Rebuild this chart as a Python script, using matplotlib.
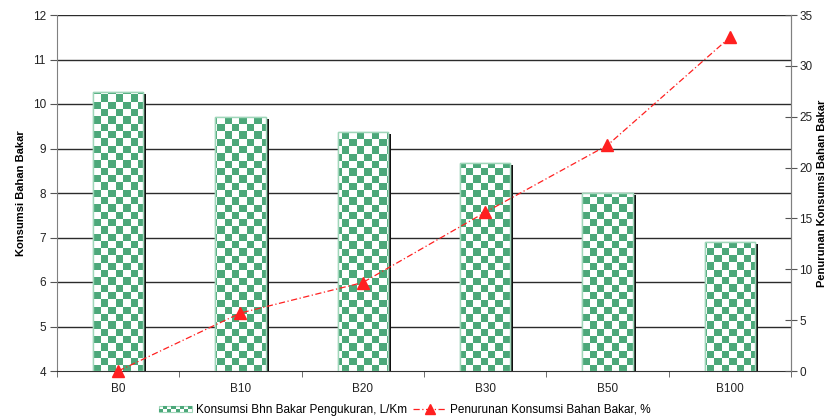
import numpy as np
import matplotlib
matplotlib.use("Agg")
import matplotlib.pyplot as plt
from matplotlib.patches import Rectangle
from matplotlib.lines import Line2D
from matplotlib.legend_handler import HandlerBase
from matplotlib.colors import ListedColormap

plt.rcParams['font.family'] = ['Liberation Sans', 'DejaVu Sans']

categories = ["B0", "B10", "B20", "B30", "B50", "B100"]
konsumsi = [10.27, 9.70, 9.37, 8.67, 8.01, 6.90]          # L/Km
penurunan = [0.0, 5.7, 8.7, 15.6, 22.2, 32.8]              # %

label_bar = "Konsumsi Bhn Bakar Pengukuran, L/Km"
label_line = "Penurunan Konsumsi Bahan Bakar, %"

GREEN = "#4ca87a"
EDGE = "#9fd6b9"

fig = plt.figure(figsize=(8.29, 4.18), dpi=100)
ax = fig.add_axes([57/829, 47/418, (791-57)/829, (371-15)/418])
x = np.arange(len(categories))

ax.set_xlim(-0.5, len(categories) - 0.5)
ax.set_ylim(4, 12)
ax.set_yticks(range(4, 13))
for yv in range(5, 13):
    ax.axhline(yv, color="#2b2b2b", lw=1.0, zorder=1)

# checkerboard texture (cell ~7.3 px) clipped to each bar
ax_w_px, ax_h_px = 791 - 57, 371 - 15
cell = 7.3
nx, ny = int(ax_w_px / cell) + 1, int(ax_h_px / cell) + 1
checker = (np.add.outer(np.arange(ny), np.arange(nx)) % 2).astype(float)
cmap = ListedColormap(["#ffffff", GREEN])

bar_w = 0.41
dy_shadow = 2.0 / 44.5
for xi, v in zip(x, konsumsi):
    # drop shadow on the right side
    ax.add_patch(Rectangle((xi + bar_w/2, 4), 0.026, v - 4 - dy_shadow,
                           facecolor="#111111", edgecolor="none", zorder=2))
    bar = Rectangle((xi - bar_w/2, 4), bar_w, v - 4, facecolor="white",
                    edgecolor=EDGE, lw=1.0, zorder=3)
    ax.add_patch(bar)
    im = ax.imshow(checker, cmap=cmap, interpolation="nearest", aspect="auto",
                   extent=[0, nx*cell/ax_w_px, 1 - ny*cell/ax_h_px, 1],
                   transform=ax.transAxes, zorder=3.5)
    im.set_clip_path(bar)
    edge = Rectangle((xi - bar_w/2, 4), bar_w, v - 4, facecolor="none",
                     edgecolor=EDGE, lw=1.0, zorder=3.6)
    ax.add_patch(edge)

ax.set_xlim(-0.5, len(categories) - 0.5)
ax.set_ylim(4, 12)

ax.set_xticks(x)
ax.set_xticklabels(categories)
ax.set_xticks(np.arange(-0.5, len(categories)), minor=True)
ax.tick_params(axis="x", which="major", length=0, pad=9, labelsize=8.5, colors="#222222")
ax.tick_params(axis="x", which="minor", length=4, color="#555555", direction="out")
ax.tick_params(axis="y", length=5, color="#555555", labelsize=8.5, labelcolor="#222222", pad=3)

for s in ["left", "right"]:
    ax.spines[s].set_color("#808080")
ax.spines["top"].set_visible(False)
ax.spines["bottom"].set_color("#333333")
ax.set_ylabel("Konsumsi Bahan Bakar", fontsize=8, fontweight="bold", labelpad=5)

ax2 = ax.twinx()
ax2.set_ylim(0, 35)
ax2.set_yticks(range(0, 36, 5))
ax2.tick_params(axis="y", direction="inout", length=8, color="#555555", labelsize=8.5,
                labelcolor="#222222", pad=2)
for s in ["left", "top", "bottom"]:
    ax2.spines[s].set_visible(False)
ax2.spines["right"].set_color("#808080")
ax2.set_ylabel("Penurunan Konsumsi Bahan Bakar", fontsize=8, fontweight="bold", labelpad=3)

ax2.plot(x, penurunan, color="#ff2020", lw=0.9, linestyle=(0, (5, 2, 1, 2)),
         marker="^", markersize=9, markerfacecolor="#ff2020", markeredgecolor="#ff2020",
         clip_on=False, zorder=5)


class CheckerHandler(HandlerBase):
    def create_artists(self, legend, orig_handle, xdescent, ydescent, width, height,
                       fontsize, trans):
        arts = []
        ncol, nrow = 8, 2
        cw = width / ncol
        y0 = -ydescent + height * 0.15
        ch = height * 0.7 / nrow
        arts.append(Rectangle((-xdescent, y0), width, ch*nrow, facecolor="white",
                              edgecolor=EDGE, lw=0.8, transform=trans))
        for r in range(nrow):
            for c in range(ncol):
                if (r + c) % 2 == 0:
                    arts.append(Rectangle((-xdescent + c*cw, y0 + r*ch), cw, ch,
                                          facecolor=GREEN, edgecolor="none", transform=trans))
        return arts


bar_handle = Rectangle((0, 0), 1, 1)
line_handle = Line2D([], [], color="#ff2020", lw=0.9, linestyle=(0, (5, 2, 1, 2)),
                     marker="^", markersize=7, markerfacecolor="#ff2020",
                     markeredgecolor="#ff2020")
fig.legend([bar_handle, line_handle], [label_bar, label_line],
           handler_map={Rectangle: CheckerHandler()},
           loc="center", bbox_to_anchor=(405/829, 1 - 410/418), ncol=2,
           frameon=False, fontsize=8.5, handlelength=2.8, handletextpad=0.35,
           columnspacing=0.5, borderpad=0)

fig.savefig("out.png", dpi=100)
